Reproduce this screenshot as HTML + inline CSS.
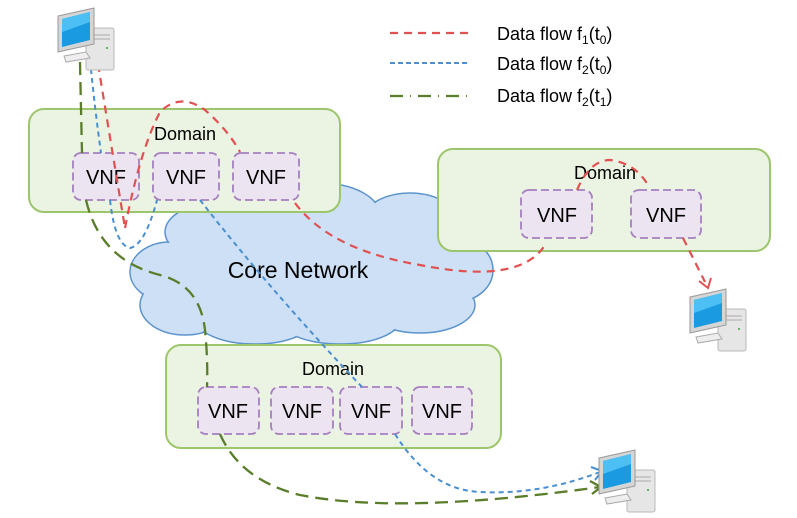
<!DOCTYPE html>
<html><head><meta charset="utf-8"><style>
html,body{margin:0;padding:0;background:#fff;}
svg{display:block;font-family:"Liberation Sans",Arial,sans-serif;}
</style></head><body>
<svg width="797" height="518" viewBox="0 0 797 518" xmlns="http://www.w3.org/2000/svg">
<defs>
<g id="pc">
  <rect x="30" y="22" width="28" height="42" rx="2" fill="#e6e6e6" stroke="#b8b8b8"/>
  <rect x="34" y="28" width="20" height="2" fill="#c8c8c8"/>
  <rect x="34" y="32" width="20" height="2" fill="#c8c8c8"/>
  <circle cx="51" cy="42" r="1" fill="#3a3"/>
  <polygon points="2,10 38,2 38,38 2,46" fill="#d5d5d5" stroke="#999"/>
  <polygon points="6,13 34,6 34,34 6,41" fill="#1a9ae0"/>
  <polygon points="6,13 34,6 34,16 6,26" fill="#4cc0f5"/>
  <path d="M8 50 L30 46 L34 52 L10 56 Z" fill="#eee" stroke="#aaa"/>
</g>
</defs>
<g fill="#cde0f5" stroke="#5b93cc" stroke-width="1.5">
  <ellipse cx="170" cy="272" rx="40" ry="30"/>
  <ellipse cx="185" cy="305" rx="45" ry="30"/>
  <ellipse cx="255" cy="318" rx="60" ry="26"/>
  <ellipse cx="340" cy="320" rx="60" ry="24"/>
  <ellipse cx="420" cy="305" rx="55" ry="28"/>
  <ellipse cx="455" cy="270" rx="38" ry="32"/>
  <ellipse cx="410" cy="225" rx="50" ry="32"/>
  <ellipse cx="320" cy="215" rx="60" ry="32"/>
  <ellipse cx="220" cy="232" rx="55" ry="30"/>
</g>
<g fill="#cde0f5">
  <ellipse cx="170" cy="272" rx="39" ry="29"/>
  <ellipse cx="185" cy="305" rx="44" ry="29"/>
  <ellipse cx="255" cy="318" rx="59" ry="25"/>
  <ellipse cx="340" cy="320" rx="59" ry="23"/>
  <ellipse cx="420" cy="305" rx="54" ry="27"/>
  <ellipse cx="455" cy="270" rx="37" ry="31"/>
  <ellipse cx="410" cy="225" rx="49" ry="31"/>
  <ellipse cx="320" cy="215" rx="59" ry="31"/>
  <ellipse cx="220" cy="232" rx="54" ry="29"/>
  <ellipse cx="310" cy="270" rx="150" ry="50"/>
</g>
<text x="298" y="278" font-size="23" text-anchor="middle">Core Network</text>
<rect x="29" y="109" width="311" height="103" rx="15" fill="#ebf3e2" stroke="#9dc66c" stroke-width="2"/>
<text x="185" y="140" font-size="18" text-anchor="middle">Domain</text>
<rect x="438" y="149" width="332" height="102" rx="15" fill="#ebf3e2" stroke="#9dc66c" stroke-width="2"/>
<text x="605" y="179" font-size="18" text-anchor="middle">Domain</text>
<rect x="166" y="345" width="335" height="103" rx="15" fill="#ebf3e2" stroke="#9dc66c" stroke-width="2"/>
<text x="333" y="375" font-size="18" text-anchor="middle">Domain</text>
<g fill="#ece4f0" stroke="#a57fbf" stroke-width="1.8" stroke-dasharray="8,4">
  <rect x="73" y="153" width="66" height="47" rx="8"/>
  <rect x="153" y="153" width="66" height="47" rx="8"/>
  <rect x="233" y="153" width="66" height="47" rx="8"/>
  <rect x="521" y="190" width="71" height="48" rx="8"/>
  <rect x="631" y="190" width="70" height="48" rx="8"/>
  <rect x="198" y="387" width="61" height="47" rx="8"/>
  <rect x="271" y="387" width="62" height="47" rx="8"/>
  <rect x="340" y="387" width="62" height="47" rx="8"/>
  <rect x="412" y="387" width="60" height="47" rx="8"/>
</g>
<g font-size="20" text-anchor="middle">
  <text x="106" y="184">VNF</text><text x="186" y="184">VNF</text><text x="266" y="184">VNF</text>
  <text x="557" y="222">VNF</text><text x="666" y="222">VNF</text>
  <text x="228" y="418">VNF</text><text x="302" y="418">VNF</text><text x="371" y="418">VNF</text><text x="442" y="418">VNF</text>
</g>
<g fill="none" stroke="#e05252" stroke-width="2.2" stroke-dasharray="8,6">
  <path d="M98 64 Q112 150 125 228"/>
  <path d="M125 228 Q140 150 160 112 Q180 92 205 110 Q228 130 240 152"/>
  <path d="M295 203 Q330 250 420 265 Q520 285 545 245"/>
  <path d="M577 190 Q590 160 610 160 Q635 163 648 185"/>
  <path d="M683 238 L705 282"/>
</g>
<path d="M699 281 L708 288 L711 278" fill="none" stroke="#e05252" stroke-width="2"/>
<g fill="none" stroke="#4a8fd0" stroke-width="2" stroke-dasharray="5,4">
  <path d="M90 60 Q95 110 101 153"/>
  <path d="M110 200 Q115 245 130 248 Q145 245 157 200"/>
  <path d="M200 200 Q270 290 362 387"/>
  <path d="M395 434 Q430 490 480 492 Q540 495 600 472"/>
</g>
<path d="M591 467 L602 471 L595 480" fill="none" stroke="#4a8fd0" stroke-width="2"/>
<g fill="none" stroke="#5a7d2a" stroke-width="2.3" stroke-dasharray="13,7">
  <path d="M80 62 Q81 110 82 153"/>
  <path d="M86 200 Q100 260 160 275 Q200 285 205 330 Q208 360 207 387"/>
  <path d="M220 434 Q240 480 300 495 Q400 515 600 487"/>
</g>
<path d="M590 481 L601 487 L592 494" fill="none" stroke="#5a7d2a" stroke-width="2.3"/>
<use href="#pc" transform="translate(56,6)"/>
<use href="#pc" transform="translate(688,287)"/>
<use href="#pc" transform="translate(597,448)"/>
<line x1="390" y1="33" x2="468" y2="33" stroke="#e05252" stroke-width="2.2" stroke-dasharray="8,6"/>
<line x1="390" y1="63" x2="470" y2="63" stroke="#4a8fd0" stroke-width="2" stroke-dasharray="5,3"/>
<line x1="390" y1="96" x2="473" y2="96" stroke="#5a7d2a" stroke-width="2.3" stroke-dasharray="13,7,1,7"/>
<g font-size="18">
  <text x="497" y="40">Data flow f<tspan font-size="12" dy="4">1</tspan><tspan dy="-4">(t</tspan><tspan font-size="12" dy="4">0</tspan><tspan dy="-4">)</tspan></text>
  <text x="497" y="70">Data flow f<tspan font-size="12" dy="4">2</tspan><tspan dy="-4">(t</tspan><tspan font-size="12" dy="4">0</tspan><tspan dy="-4">)</tspan></text>
  <text x="497" y="102">Data flow f<tspan font-size="12" dy="4">2</tspan><tspan dy="-4">(t</tspan><tspan font-size="12" dy="4">1</tspan><tspan dy="-4">)</tspan></text>
</g>
</svg>
</body></html>
